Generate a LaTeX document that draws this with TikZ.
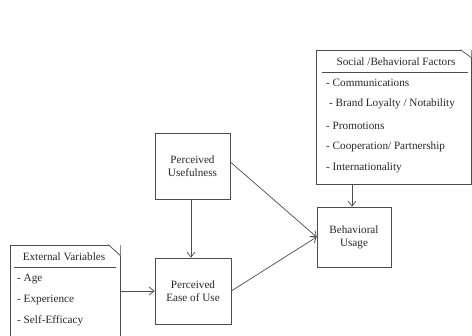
\documentclass[tikz,border=0pt]{standalone}
\usepackage{fontspec}
\setmainfont{Liberation Serif}
\usetikzlibrary{arrows.meta}
\begin{document}
\begin{tikzpicture}[x=1pt,y=-1pt,
  every node/.style={font=\fontsize{11.2}{13}\selectfont, text=black!85, inner sep=0pt},
  boxline/.style={draw=black!70, line width=0.7pt},
  sqbox/.style={boxline, rectangle, align=center},
  noteline/.style={draw=black!70, line width=0.7pt},
  arr/.style={draw=black!70, line width=0.7pt, -{Straight Barb[length=5pt,width=8pt]}},
  item/.style={anchor=west}
]
\useasboundingbox (0,0) rectangle (472,336);
\clip (0,0) rectangle (472,336);

% Main boxes
\node[sqbox, minimum width=75pt, minimum height=66pt] (pu) at (192.5,166) {Perceived\\Usefulness};
\node[sqbox, minimum width=76pt, minimum height=66pt] (peu) at (193,291) {Perceived\\Ease of Use};
\node[sqbox, minimum width=74pt, minimum height=60pt] (bu) at (354,237) {Behavioral\\Usage};

% Social / Behavioral Factors note
\node[boxline, rectangle, minimum width=155pt, minimum height=134pt] (soc) at (393.5,117) {};
\fill[white] (soc.north east) ++(-11,0) -- (soc.north east) -- ++(0,8) -- cycle;
\draw[noteline] (soc.north east) ++(-11,0) -- ++(11,8);
\node (soct) at (396,61.5) {Social /Behavioral Factors};
\draw[noteline] (322,72.5) -- (468,72.5);
\node[item] (s1) at (326,83) {- Communications};
\node[item] (s2) at (329,104) {- Brand Loyalty / Notability};
\node[item] (s3) at (326,126) {- Promotions};
\node[item] (s4) at (326,147) {- Cooperation/ Partnership};
\node[item] (s5) at (326,168) {- Internationality};

% External Variables note
\node[boxline, rectangle, minimum width=110pt, minimum height=110pt] (ext) at (65,300) {};
\fill[white] (ext.north east) ++(-12,0) -- (ext.north east) -- ++(0,11) -- cycle;
\draw[noteline] (ext.north east) ++(-12,0) -- ++(12,11);
\node (extt) at (64,257) {External Variables};
\draw[noteline] (14,267) -- (116,267);
\node[item] (e1) at (17,279.5) {- Age};
\node[item] (e2) at (17,300) {- Experience};
\node[item] (e3) at (17,321) {- Self-Efficacy};

% Connectors
\draw[arr] (soc.south -| 352,0) -- (bu.north -| 352,0);
\draw[arr] (pu.south -| 191,0) -- (peu.north -| 191,0);
\draw[arr] ([yshift=4pt]pu.east) -- (bu.west);
\draw[arr] (peu.east) -- (bu.west);
\draw[arr] (peu.west -| ext.east) -- (peu.west);
\end{tikzpicture}
\end{document}
